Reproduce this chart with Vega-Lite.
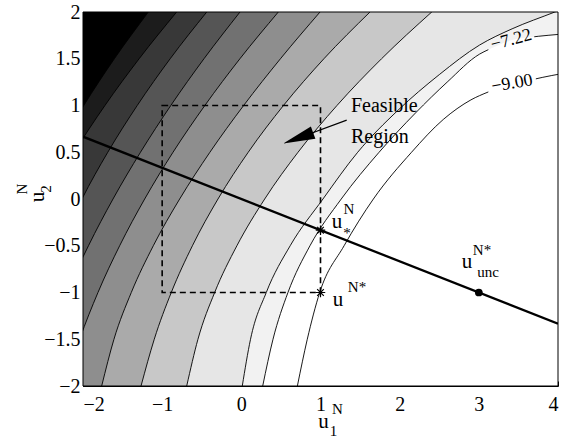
{
  "$schema": "https://vega.github.io/schema/vega-lite/v6.json",
  "width": 475,
  "height": 374,
  "autosize": "none",
  "padding": {"left": 83, "top": 12, "right": 8, "bottom": 56},
  "background": "white",
  "config": {
    "view": {"stroke": null},
    "font": "Liberation Serif",
    "axis": {"labelFont": "Liberation Serif", "labelFontSize": 20, "labelColor": "black", "domainColor": "black", "tickColor": "black", "grid": false, "title": null, "zindex": 1}
  },
  "datasets": {
    "contours": [
      {"c":1,"u1":-3.6,"u2":-2},{"c":1,"u1":-3.11,"u2":-1},{"c":1,"u1":-2.635,"u2":0},{"c":1,"u1":-2.334,"u2":0.5},{"c":1,"u1":-1.99,"u2":1},{"c":1,"u1":-1.604,"u2":1.5},{"c":1,"u1":-1.175,"u2":2},{"c":1,"u1":-0.5,"u2":2.75},{"c":1,"u1":5,"u2":10},
      {"c":2,"u1":-3.45,"u2":-2},{"c":2,"u1":-3.025,"u2":-1},{"c":2,"u1":-2.459,"u2":0},{"c":2,"u1":-2.112,"u2":0.5},{"c":2,"u1":-1.723,"u2":1},{"c":2,"u1":-1.291,"u2":1.5},{"c":2,"u1":-0.817,"u2":2},{"c":2,"u1":-0.3,"u2":2.52},{"c":2,"u1":5,"u2":10},
      {"c":3,"u1":-2.869,"u2":-2},{"c":3,"u1":-2.531,"u2":-1},{"c":3,"u1":-2.013,"u2":0},{"c":3,"u1":-1.687,"u2":0.5},{"c":3,"u1":-1.315,"u2":1},{"c":3,"u1":-0.899,"u2":1.5},{"c":3,"u1":-0.437,"u2":2},{"c":3,"u1":0.1,"u2":2.55},{"c":3,"u1":5,"u2":10},
      {"c":4,"u1":-2.645,"u2":-2},{"c":4,"u1":-2.205,"u2":-1},{"c":4,"u1":-1.931,"u2":-0.5},{"c":4,"u1":-1.621,"u2":0},{"c":4,"u1":-1.274,"u2":0.5},{"c":4,"u1":-0.891,"u2":1},{"c":4,"u1":-0.472,"u2":1.5},{"c":4,"u1":-0.017,"u2":2},{"c":4,"u1":0.5,"u2":2.55},{"c":4,"u1":5,"u2":10},
      {"c":5,"u1":-2.231,"u2":-2},{"c":5,"u1":-2.042,"u2":-1.5},{"c":5,"u1":-1.811,"u2":-1},{"c":5,"u1":-1.537,"u2":-0.5},{"c":5,"u1":-1.221,"u2":0},{"c":5,"u1":-0.863,"u2":0.5},{"c":5,"u1":-0.461,"u2":1},{"c":5,"u1":-0.018,"u2":1.5},{"c":5,"u1":0.467,"u2":2},{"c":5,"u1":1.0,"u2":2.53},{"c":5,"u1":5,"u2":10},
      {"c":6,"u1":-1.764,"u2":-2},{"c":6,"u1":-1.609,"u2":-1.5},{"c":6,"u1":-1.39,"u2":-1},{"c":6,"u1":-1.112,"u2":-0.5},{"c":6,"u1":-0.779,"u2":0},{"c":6,"u1":-0.397,"u2":0.5},{"c":6,"u1":0.029,"u2":1},{"c":6,"u1":0.494,"u2":1.5},{"c":6,"u1":0.994,"u2":2},{"c":6,"u1":1.5,"u2":2.49},{"c":6,"u1":5,"u2":10},
      {"c":7,"u1":-1.267,"u2":-2},{"c":7,"u1":-1.1,"u2":-1.5},{"c":7,"u1":-0.885,"u2":-1},{"c":7,"u1":-0.618,"u2":-0.5},{"c":7,"u1":-0.295,"u2":0},{"c":7,"u1":0.087,"u2":0.5},{"c":7,"u1":0.532,"u2":1},{"c":7,"u1":1.043,"u2":1.5},{"c":7,"u1":1.625,"u2":2},{"c":7,"u1":2.2,"u2":2.46},{"c":7,"u1":5,"u2":10},
      {"c":8,"u1":-0.69,"u2":-2},{"c":8,"u1":-0.548,"u2":-1.5},{"c":8,"u1":-0.337,"u2":-1},{"c":8,"u1":-0.056,"u2":-0.5},{"c":8,"u1":0.295,"u2":0},{"c":8,"u1":0.716,"u2":0.5},{"c":8,"u1":1.208,"u2":1},{"c":8,"u1":1.771,"u2":1.5},{"c":8,"u1":2.405,"u2":2},{"c":8,"u1":3.0,"u2":2.44},{"c":8,"u1":5,"u2":10},
      {"c":9,"u1":0.012,"u2":-2},{"c":9,"u1":0.116,"u2":-1.5},{"c":9,"u1":0.315,"u2":-1},{"c":9,"u1":0.617,"u2":-0.5},{"c":9,"u1":1.031,"u2":0},{"c":9,"u1":1.47,"u2":0.5},{"c":9,"u1":1.98,"u2":0.95},{"c":9,"u1":2.5,"u2":1.33},{"c":9,"u1":3.01,"u2":1.647},{"c":9,"u1":3.42,"u2":1.82},{"c":9,"u1":3.96,"u2":2},{"c":9,"u1":4.4,"u2":2.15},{"c":9,"u1":5,"u2":3},
      {"c":10,"u1":0.27,"u2":-2},{"c":10,"u1":0.4,"u2":-1.5},{"c":10,"u1":0.589,"u2":-1},{"c":10,"u1":0.867,"u2":-0.5},{"c":10,"u1":1.262,"u2":0},{"c":10,"u1":1.74,"u2":0.5},{"c":10,"u1":2.2,"u2":0.92},{"c":10,"u1":2.6,"u2":1.25},{"c":10,"u1":3.01,"u2":1.55},{"c":10,"u1":3.12,"u2":1.597},
      {"c":10,"u1":3.42,"u2":1.7,"gap":1},
      {"c":10,"u1":3.7,"u2":1.735,"g":"b"},{"c":10,"u1":3.75,"u2":1.74,"g":"b"},{"c":10,"u1":4.0,"u2":1.76,"g":"b"},{"c":10,"u1":4.5,"u2":1.8,"g":"b"},{"c":10,"u1":5.0,"u2":1.85,"g":"b"},
      {"c":11,"u1":0.708,"u2":-2},{"c":11,"u1":0.833,"u2":-1.5},{"c":11,"u1":0.99,"u2":-1},{"c":11,"u1":1.298,"u2":-0.5},{"c":11,"u1":1.668,"u2":0},{"c":11,"u1":2.15,"u2":0.5},{"c":11,"u1":2.55,"u2":0.85},{"c":11,"u1":2.9,"u2":1.06},{"c":11,"u1":3.12,"u2":1.145},
      {"c":11,"u1":3.3,"u2":1.2,"gap":1},{"c":11,"u1":3.5,"u2":1.25,"gap":1},
      {"c":11,"u1":3.72,"u2":1.285,"g":"b"},{"c":11,"u1":3.8,"u2":1.3,"g":"b"},{"c":11,"u1":4.044,"u2":1.34,"g":"b"},{"c":11,"u1":4.6,"u2":1.42,"g":"b"},{"c":11,"u1":5.2,"u2":1.5,"g":"b"}
    ]
  },
  "layer": [
    {"data": {"values": [{}]},
     "mark": {"type": "rect", "color": "black"},
     "encoding": {
        "x": {"datum": -2, "type": "quantitative", "scale": {"domain": [-2, 4], "nice": false, "zero": false},
              "axis": {"values": [-2,-1,0,1,2,3,4], "format": "~g", "tickSize": -5, "labelPadding": 13}},
        "x2": {"datum": 4},
        "y": {"datum": -2, "type": "quantitative", "scale": {"domain": [-2, 2], "nice": false, "zero": false},
              "axis": {"values": [-2,-1.5,-1,-0.5,0,0.5,1,1.5,2], "format": "~g", "tickSize": -5, "labelPadding": 8}},
        "y2": {"datum": 2}}},
    {"data": {"name": "contours"}, "transform": [{"filter": "datum.c == 1"}],
     "mark": {"type": "area", "color": "#1c1c1c", "interpolate": "monotone", "clip": true},
     "encoding": {"x": {"field": "u1", "type": "quantitative"}, "y": {"field": "u2", "type": "quantitative"}, "y2": {"datum": -2}}},
    {"data": {"name": "contours"}, "transform": [{"filter": "datum.c == 2"}],
     "mark": {"type": "area", "color": "#383838", "interpolate": "monotone", "clip": true},
     "encoding": {"x": {"field": "u1", "type": "quantitative"}, "y": {"field": "u2", "type": "quantitative"}, "y2": {"datum": -2}}},
    {"data": {"name": "contours"}, "transform": [{"filter": "datum.c == 3"}],
     "mark": {"type": "area", "color": "#555555", "interpolate": "monotone", "clip": true},
     "encoding": {"x": {"field": "u1", "type": "quantitative"}, "y": {"field": "u2", "type": "quantitative"}, "y2": {"datum": -2}}},
    {"data": {"name": "contours"}, "transform": [{"filter": "datum.c == 4"}],
     "mark": {"type": "area", "color": "#717171", "interpolate": "monotone", "clip": true},
     "encoding": {"x": {"field": "u1", "type": "quantitative"}, "y": {"field": "u2", "type": "quantitative"}, "y2": {"datum": -2}}},
    {"data": {"name": "contours"}, "transform": [{"filter": "datum.c == 5"}],
     "mark": {"type": "area", "color": "#8e8e8e", "interpolate": "monotone", "clip": true},
     "encoding": {"x": {"field": "u1", "type": "quantitative"}, "y": {"field": "u2", "type": "quantitative"}, "y2": {"datum": -2}}},
    {"data": {"name": "contours"}, "transform": [{"filter": "datum.c == 6"}],
     "mark": {"type": "area", "color": "#aaaaaa", "interpolate": "monotone", "clip": true},
     "encoding": {"x": {"field": "u1", "type": "quantitative"}, "y": {"field": "u2", "type": "quantitative"}, "y2": {"datum": -2}}},
    {"data": {"name": "contours"}, "transform": [{"filter": "datum.c == 7"}],
     "mark": {"type": "area", "color": "#c8c8c8", "interpolate": "monotone", "clip": true},
     "encoding": {"x": {"field": "u1", "type": "quantitative"}, "y": {"field": "u2", "type": "quantitative"}, "y2": {"datum": -2}}},
    {"data": {"name": "contours"}, "transform": [{"filter": "datum.c == 8"}],
     "mark": {"type": "area", "color": "#e6e6e6", "interpolate": "monotone", "clip": true},
     "encoding": {"x": {"field": "u1", "type": "quantitative"}, "y": {"field": "u2", "type": "quantitative"}, "y2": {"datum": -2}}},
    {"data": {"name": "contours"}, "transform": [{"filter": "datum.c == 9"}],
     "mark": {"type": "area", "color": "#f2f2f2", "interpolate": "monotone", "clip": true},
     "encoding": {"x": {"field": "u1", "type": "quantitative"}, "y": {"field": "u2", "type": "quantitative"}, "y2": {"datum": -2}}},
    {"data": {"name": "contours"}, "transform": [{"filter": "datum.c == 10"}],
     "mark": {"type": "area", "color": "#ffffff", "interpolate": "monotone", "clip": true},
     "encoding": {"x": {"field": "u1", "type": "quantitative"}, "y": {"field": "u2", "type": "quantitative"}, "y2": {"datum": -2}}},
    {"data": {"name": "contours"}, "transform": [{"filter": "datum.gap != 1"}],
     "mark": {"type": "line", "color": "black", "strokeWidth": 0.9, "interpolate": "monotone", "clip": true},
     "encoding": {"x": {"field": "u1", "type": "quantitative"}, "y": {"field": "u2", "type": "quantitative"}, "detail": [{"field": "c", "type": "nominal"}, {"field": "g", "type": "nominal"}]}},
    {"data": {"values": [{"u1a": -1, "u1b": 1, "u2a": -1, "u2b": 1}]},
     "mark": {"type": "rect", "filled": false, "stroke": "black", "strokeWidth": 1.6, "strokeDash": [6, 4]},
     "encoding": {"x": {"field": "u1a", "type": "quantitative"}, "x2": {"field": "u1b"}, "y": {"field": "u2a", "type": "quantitative"}, "y2": {"field": "u2b"}}},
    {"data": {"values": [{"u1": -2, "u2": 0.6667}, {"u1": 4, "u2": -1.3333}]},
     "mark": {"type": "line", "color": "black", "strokeWidth": 2.3, "clip": true},
     "encoding": {"x": {"field": "u1", "type": "quantitative"}, "y": {"field": "u2", "type": "quantitative"}}},
    {"data": {"values": [{"u1": 1.331, "u2": 0.843}, {"u1": 0.62, "u2": 0.62}]},
     "mark": {"type": "line", "color": "black", "strokeWidth": 1.2},
     "encoding": {"x": {"field": "u1", "type": "quantitative"}, "y": {"field": "u2", "type": "quantitative"}}},
    {"data": {"values": [{"u1": 0.53, "u2": 0.594}]},
     "mark": {"type": "point", "shape": "M0,0L-0.5,2.4L0.5,2.4Z", "filled": true, "color": "black", "size": 700, "angle": 250, "opacity": 1},
     "encoding": {"x": {"field": "u1", "type": "quantitative"}, "y": {"field": "u2", "type": "quantitative"}}},
    {"data": {"values": [{"u1": 1, "u2": -0.3333}, {"u1": 1, "u2": -1}]},
     "mark": {"type": "point", "shape": "M-1,0L1,0M0,-1L0,1M-0.7,-0.7L0.7,0.7M-0.7,0.7L0.7,-0.7", "filled": false, "color": "black", "strokeWidth": 1.2, "size": 90, "opacity": 1},
     "encoding": {"x": {"field": "u1", "type": "quantitative"}, "y": {"field": "u2", "type": "quantitative"}}},
    {"data": {"values": [{"u1": 3, "u2": -1}]},
     "mark": {"type": "circle", "color": "black", "size": 60, "opacity": 1},
     "encoding": {"x": {"field": "u1", "type": "quantitative"}, "y": {"field": "u2", "type": "quantitative"}}},
    {"data": {"values": [{}]},
     "mark": {"type": "rect", "filled": false, "stroke": "black", "strokeWidth": 1},
     "encoding": {"x": {"datum": -2}, "x2": {"datum": 4}, "y": {"datum": -2}, "y2": {"datum": 2}}},
    {"data": {"values": [{"t": "u", "u1": 1.208, "u2": -0.246}, {"t": "u", "u1": 1.221, "u2": -1.08}, {"t": "u", "u1": 2.85, "u2": -0.674}, {"t": "u", "u1": 1.038, "u2": -2.38}]},
     "mark": {"type": "text", "font": "Liberation Serif", "fontSize": 21, "color": "black", "align": "center", "baseline": "middle"},
     "encoding": {"x": {"field": "u1", "type": "quantitative"}, "y": {"field": "u2", "type": "quantitative"}, "text": {"field": "t"}}},
    {"data": {"values": [{"t": "N", "u1": 1.36, "u2": -0.107}, {"t": "*", "u1": 1.335, "u2": -0.364}, {"t": "N*", "u1": 1.461, "u2": -0.941}, {"t": "N*", "u1": 3.04, "u2": -0.545}, {"t": "unc", "u1": 3.116, "u2": -0.781}, {"t": "N", "u1": 1.215, "u2": -2.245}, {"t": "1", "u1": 1.165, "u2": -2.48}]},
     "mark": {"type": "text", "font": "Liberation Serif", "fontSize": 15, "color": "black", "align": "center", "baseline": "middle"},
     "encoding": {"x": {"field": "u1", "type": "quantitative"}, "y": {"field": "u2", "type": "quantitative"}, "text": {"field": "t"}}},
    {"data": {"values": [{"t": "u", "u1": -2.568, "u2": 0.021}]},
     "mark": {"type": "text", "font": "Liberation Serif", "fontSize": 21, "color": "black", "align": "center", "baseline": "middle", "angle": 270},
     "encoding": {"x": {"field": "u1", "type": "quantitative"}, "y": {"field": "u2", "type": "quantitative"}, "text": {"field": "t"}}},
    {"data": {"values": [{"t": "N", "u1": -2.77, "u2": 0.107}, {"t": "2", "u1": -2.467, "u2": 0.107}]},
     "mark": {"type": "text", "font": "Liberation Serif", "fontSize": 15, "color": "black", "align": "center", "baseline": "middle", "angle": 270},
     "encoding": {"x": {"field": "u1", "type": "quantitative"}, "y": {"field": "u2", "type": "quantitative"}, "text": {"field": "t"}}},
    {"data": {"values": [{"t": "Feasible", "u1": 1.385, "u2": 0.995}, {"t": "Region", "u1": 1.385, "u2": 0.663}]},
     "mark": {"type": "text", "font": "Liberation Serif", "fontSize": 20, "color": "black", "align": "left", "baseline": "middle"},
     "encoding": {"x": {"field": "u1", "type": "quantitative"}, "y": {"field": "u2", "type": "quantitative"}, "text": {"field": "t"}}},
    {"data": {"values": [{"t": "−7.22", "u1": 3.41, "u2": 1.7}]},
     "mark": {"type": "text", "font": "Liberation Serif", "fontSize": 18, "color": "black", "align": "center", "baseline": "middle", "angle": 345},
     "encoding": {"x": {"field": "u1", "type": "quantitative"}, "y": {"field": "u2", "type": "quantitative"}, "text": {"field": "t"}}},
    {"data": {"values": [{"t": "−9.00", "u1": 3.42, "u2": 1.235}]},
     "mark": {"type": "text", "font": "Liberation Serif", "fontSize": 18, "color": "black", "align": "center", "baseline": "middle", "angle": 350},
     "encoding": {"x": {"field": "u1", "type": "quantitative"}, "y": {"field": "u2", "type": "quantitative"}, "text": {"field": "t"}}}
  ]
}
